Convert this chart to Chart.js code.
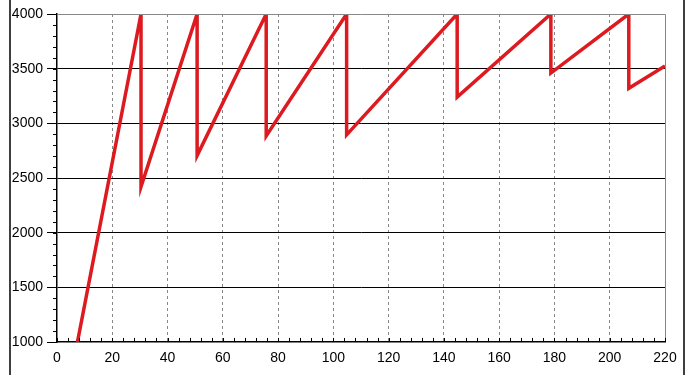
<!DOCTYPE html>
<html>
  <head>
    <title>Document</title>
    <script src="https://cdn.jsdelivr.net/npm/chart.js"></script>
    <style>
      body { margin: 0; background: #fff; }
    </style>
  </head>
  <body>
    <canvas id="sawChart" width="696" height="375"></canvas>
    <script>
      // values
      var xValues = [7.4, 30.4, 30.4, 50.7, 50.7, 75.7, 75.7, 104.8, 104.8, 144.8, 144.8, 178.7, 178.7, 206.9, 206.9, 220];
      var yValues = [1000, 4000, 2420, 4000, 2705, 4000, 2885, 4000, 2895, 4000, 3240, 4000, 3460, 4000, 3320, 3525];
      var xTicks = [0, 20, 40, 60, 80, 100, 120, 140, 160, 180, 200, 220];
      var yTicks = [1000, 1500, 2000, 2500, 3000, 3500, 4000];

      var points = xValues.map(function (x, i) {
        return { x: x, y: yValues[i] };
      });

      var frame = {
        id: "frame",
        afterDraw: function (chart) {
          var c = chart.ctx, a = chart.chartArea;
          var sx = chart.scales.x, sy = chart.scales.y;
          c.save();
          // gray top / right border of the plot
          c.strokeStyle = "#888";
          c.lineWidth = 1;
          c.beginPath();
          c.moveTo(a.left, a.top + 0.5);
          c.lineTo(a.right + 0.5, a.top + 0.5);
          c.lineTo(a.right + 0.5, a.bottom);
          c.stroke();
          // minor ticks
          c.strokeStyle = "#000";
          c.beginPath();
          for (var v = 1000; v <= 4000; v += 100) {
            var py = Math.round(sy.getPixelForValue(v)) + 0.5;
            c.moveTo(a.left - 4, py);
            c.lineTo(a.left, py);
          }
          for (var u = 0; u <= 220; u += 4) {
            var px = Math.round(sx.getPixelForValue(u)) + 0.5;
            c.moveTo(px, a.bottom);
            c.lineTo(px, a.bottom - 4);
          }
          c.stroke();
          // outer frame lines
          c.lineWidth = 1.5;
          c.beginPath();
          c.moveTo(10, 0);
          c.lineTo(10, 375);
          c.moveTo(684, 0);
          c.lineTo(684, 375);
          c.stroke();
          c.restore();
        },
      };

      var ctx = document.getElementById("sawChart").getContext("2d");
      var sawChart = new Chart(ctx, {
        type: "scatter",
        data: {
          datasets: [
            {
              data: points,
              showLine: true,
              borderColor: "#dc1a1f",
              borderWidth: 3.5,
              pointRadius: 0,
              clip: 0,
            },
          ],
        },
        options: {
          responsive: false,
          animation: false,
          layout: { padding: { left: 10, right: 31, top: 14, bottom: 7 } },
          plugins: { legend: { display: false }, tooltip: { enabled: false } },
          scales: {
            x: {
              type: "linear",
              min: 0,
              max: 220,
              afterBuildTicks: function (s) {
                s.ticks = xTicks.map(function (v) { return { value: v }; });
              },
              afterFit: function (s) { s.height = 26; },
              ticks: {
                color: "#000",
                padding: 8,
                maxRotation: 0,
                font: { family: "'Liberation Sans', Arial", size: 14 },
                callback: function (v) { return String(v); },
              },
              grid: {
                drawTicks: false,
                color: function (c) {
                  return c.tick && c.tick.value > 0 && c.tick.value < 220 ? "#888" : "rgba(0,0,0,0)";
                },
              },
              border: { color: "#000", width: 1.5, dash: [3, 3] },
            },
            y: {
              min: 1000,
              max: 4000,
              afterBuildTicks: function (s) {
                s.ticks = yTicks.map(function (v) { return { value: v }; });
              },
              afterFit: function (s) { s.width = 47; },
              ticks: {
                color: "#000",
                padding: 4,
                font: { family: "'Liberation Sans', Arial", size: 14 },
                callback: function (v) { return String(v); },
              },
              grid: {
                tickLength: 10,
                tickColor: "#000",
                color: function (c) {
                  if (!c.tick) return "#000";
                  if (c.tick.value === 4000 || c.tick.value === 1000) return "rgba(0,0,0,0)";
                  return "#000";
                },
              },
              border: { color: "#000", width: 1.5 },
            },
          },
        },
        plugins: [frame],
      });
    </script>
  </body>
</html>
